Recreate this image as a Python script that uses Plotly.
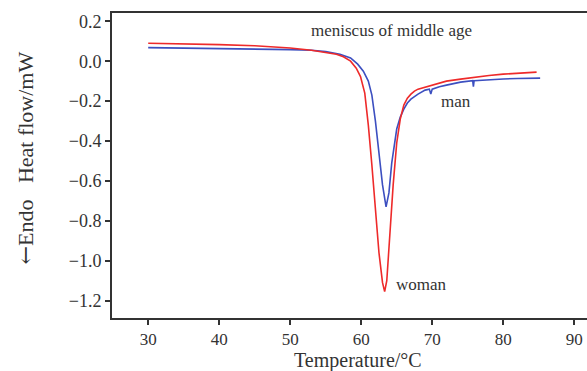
import plotly.graph_objects as go

# Temperature (°C) and heat flow (mW)
woman_t = [30, 35, 40, 45, 50, 53, 55, 56.5, 57.5, 58.5, 59.3, 59.9, 60.5, 61.0, 61.5, 62.0, 62.5,
           63.0, 63.3, 63.6, 64.0, 64.5, 65.0, 65.5, 66.0, 66.5, 67.0, 67.5, 68.0, 69.0, 70, 72,
           74, 76, 78, 80, 82, 84.7]
woman_hf = [0.090, 0.087, 0.083, 0.077, 0.066, 0.055, 0.045, 0.035, 0.022, 0.000, -0.035, -0.077,
            -0.16, -0.32, -0.52, -0.74, -0.96, -1.11, -1.155, -1.10, -0.87, -0.62, -0.41, -0.29,
            -0.22, -0.185, -0.165, -0.15, -0.14, -0.13, -0.118, -0.10, -0.09, -0.08, -0.072,
            -0.065, -0.06, -0.055]

man_t = [30, 35, 40, 45, 50, 53, 55, 57, 58.5, 59.5, 60.3, 61.0, 61.5, 62.0, 62.5, 63.0, 63.5,
         63.9, 64.3, 64.7, 65.0, 65.5, 66.0, 66.5, 67.0, 68.0, 69.0, 69.6, 69.8, 70.0, 71, 72,
         74, 75.7, 75.8, 75.9, 78, 80, 82, 85.2]
man_hf = [0.068, 0.066, 0.065, 0.062, 0.058, 0.055, 0.048, 0.035, 0.016, -0.015, -0.05, -0.10,
          -0.17, -0.30, -0.45, -0.62, -0.73, -0.66, -0.51, -0.40, -0.34, -0.28, -0.24, -0.21,
          -0.19, -0.165, -0.145, -0.14, -0.165, -0.14, -0.128, -0.12, -0.105, -0.098, -0.127,
          -0.098, -0.092, -0.089, -0.087, -0.085]

x_ticks = [30, 40, 50, 60, 70, 80, 90]
y_ticks = [0.2, 0.0, -0.2, -0.4, -0.6, -0.8, -1.0, -1.2]
y_tick_labels = ["0.2", "0.0", "\u22120.2", "\u22120.4", "\u22120.6", "\u22120.8", "\u22121.0", "\u22121.2"]

FONT = "Liberation Serif"
INK = "#333333"

fig = go.Figure()
fig.add_trace(go.Scatter(x=man_t, y=man_hf, mode="lines", line=dict(color="#3c4fc0", width=1.6),
                         name="man"))
fig.add_trace(go.Scatter(x=woman_t, y=woman_hf, mode="lines", line=dict(color="#ee2a2a", width=1.6),
                         name="woman"))

fig.update_layout(
    width=587, height=371,
    margin=dict(l=112, r=0, t=13, b=53),
    paper_bgcolor="white", plot_bgcolor="white",
    showlegend=False,
    font=dict(family=FONT, color=INK, size=18),
    xaxis=dict(range=[24.9, 91.8], tickvals=x_ticks, ticks="outside", ticklen=5, tickwidth=1.5,
               tickcolor=INK, showline=True, linecolor=INK, linewidth=1.8, mirror=True,
               showgrid=False, zeroline=False, tickfont=dict(size=17, family=FONT, color=INK)),
    yaxis=dict(range=[-1.287, 0.2415], tickvals=y_ticks, ticktext=y_tick_labels, ticks="outside",
               ticklen=5, tickwidth=1.5, tickcolor=INK, showline=True, linecolor=INK, linewidth=1.8,
               showgrid=False, zeroline=False, tickfont=dict(size=18, family=FONT, color=INK)),
    annotations=[
        dict(text="meniscus of middle age", x=64.2, y=0.156, xref="x", yref="y", showarrow=False,
             font=dict(size=17, family=FONT, color=INK)),
        dict(text="man", x=73.3, y=-0.202, xref="x", yref="y", showarrow=False,
             font=dict(size=17, family=FONT, color=INK)),
        dict(text="woman", x=68.45, y=-1.118, xref="x", yref="y", showarrow=False,
             font=dict(size=17, family=FONT, color=INK)),
        dict(text="Temperature/\u00b0C", x=59.6, y=0, xref="x", yref="paper", yanchor="middle",
             yshift=-42, showarrow=False, font=dict(size=20, family=FONT, color=INK)),
        dict(text="<span style='font-family:DejaVu Serif'>\u2190</span>Endo"
                  + "\u00a0" * 3 + "Heat flow/mW",
             x=0, y=0.523, xref="paper", yref="paper",
             xanchor="center", yanchor="middle", xshift=-87, textangle=-90, showarrow=False,
             font=dict(size=22, family=FONT, color=INK)),
    ],
)

fig.write_html(
    "out.html",
    config={"displayModeBar": False},
    post_script="document.body.style.margin='0';document.body.style.overflow='hidden';",
)
